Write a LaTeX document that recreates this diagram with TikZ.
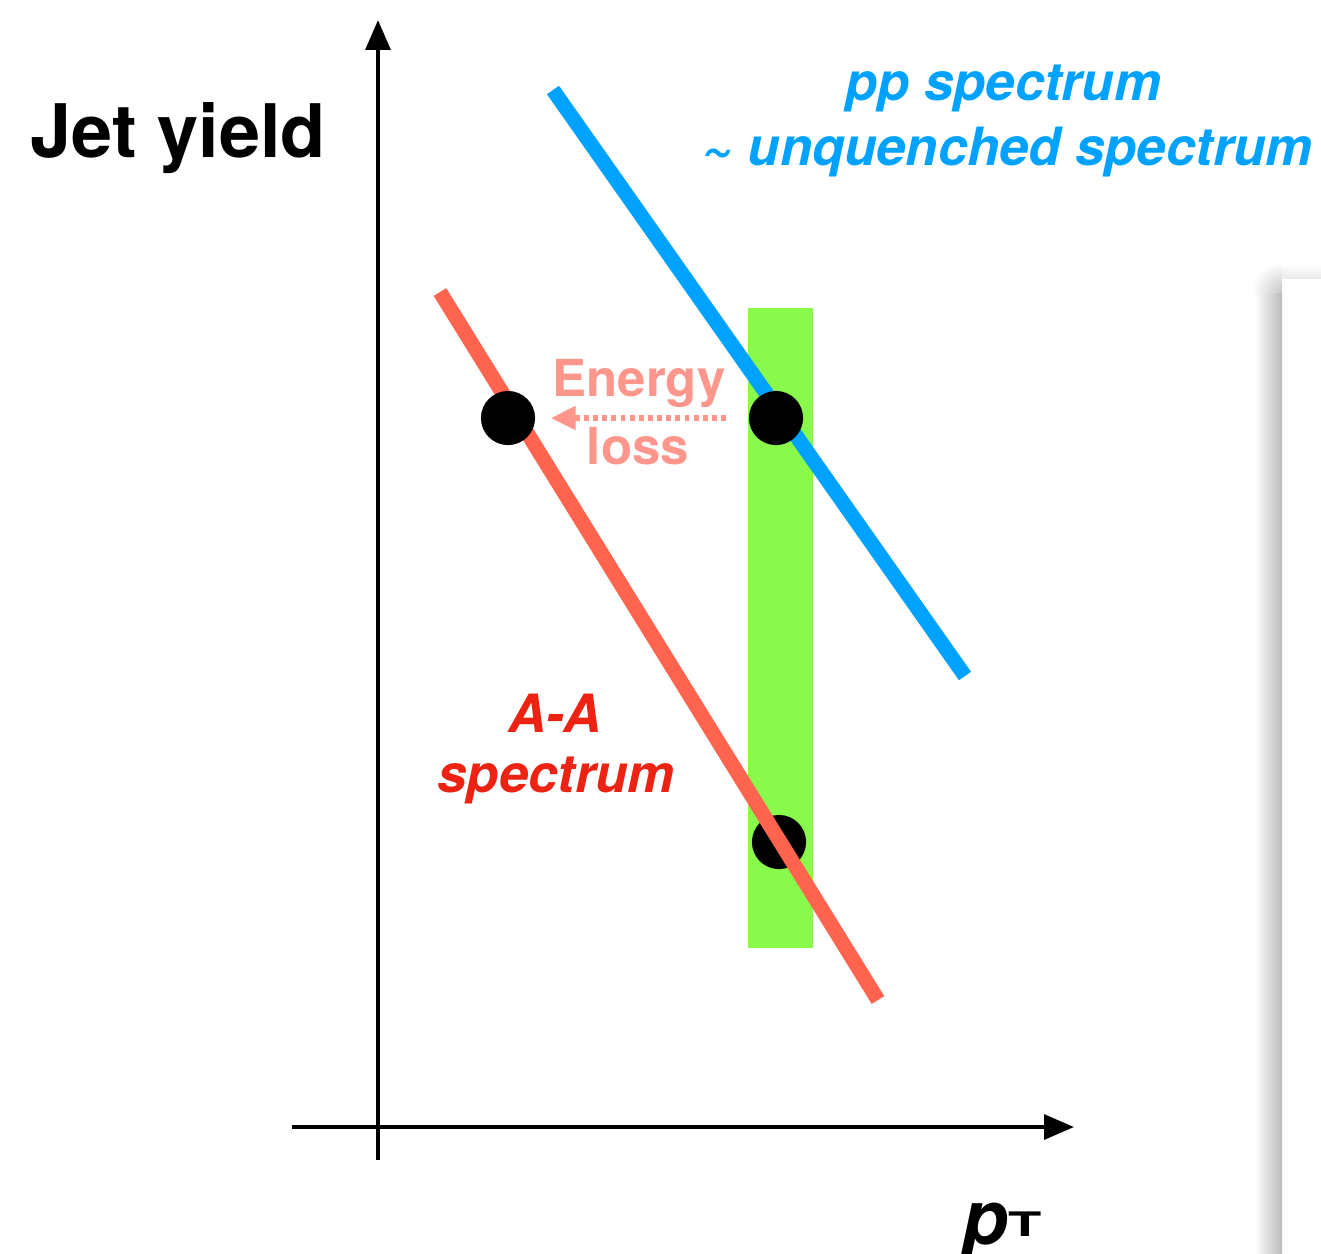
\documentclass[tikz,border=0pt]{standalone}
\usepackage{fontspec}
\setmainfont{TeX Gyre Heros}
\usepackage{tikz}
\usetikzlibrary{arrows.meta}

\definecolor{ppblue}{RGB}{0,162,255}
\definecolor{aared}{RGB}{255,100,78}
\definecolor{aatext}{RGB}{236,34,18}
\definecolor{ptgreen}{RGB}{137,249,75}
\definecolor{losscol}{RGB}{255,150,140}

\begin{document}
\begin{tikzpicture}[x=0.01cm, y=-0.01cm,
    axis/.style={line width=1.2pt, -{Triangle[width=7pt,length=8.5pt]}},
    spec/.style={line width=4.2pt},
    dot/.style={circle, fill=black, inner sep=0pt, minimum size=15.4pt},
    lbl/.style={inner sep=0pt, anchor=base, font=\bfseries\itshape\fontsize{15}{18}\selectfont}]
    \useasboundingbox (0,0) rectangle (1321,1253);

    % panel at the right edge
    \shade[left color=white, right color=black!27] (1254,292) rectangle (1282,1253);
    \begin{scope}
        \clip (1254,262) rectangle (1282,292);
        \shade[inner color=black!22, outer color=white] (1282,292) circle[radius=0.3cm];
    \end{scope}
    \shade[top color=white, bottom color=black!8] (1282,264) rectangle (1321,278);

    % axes
    \coordinate (yBot) at (378,1160);
    \coordinate (yTop) at (378,20);
    \coordinate (xLeft) at (292,1127);
    \coordinate (xRight) at (1074,1127);
    \draw[axis] (yBot) -- (yTop);
    \draw[axis] (xLeft) -- (xRight);
    \node[inner sep=0pt, anchor=base west, font=\bfseries\fontsize{21}{25}\selectfont] (ylab) at (30,157) {Jet yield};
    \node[inner sep=0pt, anchor=base west] (xlab) at (962,1244)
        {\fontsize{21.5}{25}\selectfont\bfseries\itshape p\upshape\fontsize{15.5}{18}\selectfont\raisebox{2pt}{\scalebox{1}[0.62]{T}}};

    % pT window
    \fill[ptgreen] (748,308) rectangle (813,948);

    % spectra
    \coordinate (ppA) at (553,90);
    \coordinate (ppB) at (965,676);
    \coordinate (aaA) at (440,292);
    \coordinate (aaB) at (878,1000);
    \node[dot] (loB) at (779,842) {};
    \draw[spec, ppblue] (ppA) -- (ppB);
    \draw[spec, aared] (aaA) -- (aaB);
    \node[dot] (loA) at (508,418) {};
    \node[dot] (hiB) at (776,418) {};

    % energy loss (shift to lower pT)
    \draw[losscol, line width=1.5pt, dash pattern=on 1.4pt off 1.2pt,
          -{Triangle[width=6.5pt,length=7pt]}, shorten <=6.3pt, shorten >=4.3pt] (hiB) -- (loA);
    \node[inner sep=0pt, anchor=base, text=losscol, font=\bfseries\fontsize{14.5}{17}\selectfont] (eloss1) at (639,396) {Energy};
    \node[inner sep=0pt, anchor=base, text=losscol, font=\bfseries\fontsize{14.5}{17}\selectfont] (eloss2) at (638,464) {loss};

    % labels
    \node[lbl, text=ppblue] (pp1) at (1003,100) {pp spectrum};
    \node[lbl, text=ppblue, anchor=base east] (pp2) at (1313,165) {\textasciitilde{} unquenched spectrum};
    \node[lbl, text=aatext] (aa1) at (555,732) {A-A};
    \node[lbl, text=aatext] (aa2) at (556,792) {spectrum};
\end{tikzpicture}
\end{document}
